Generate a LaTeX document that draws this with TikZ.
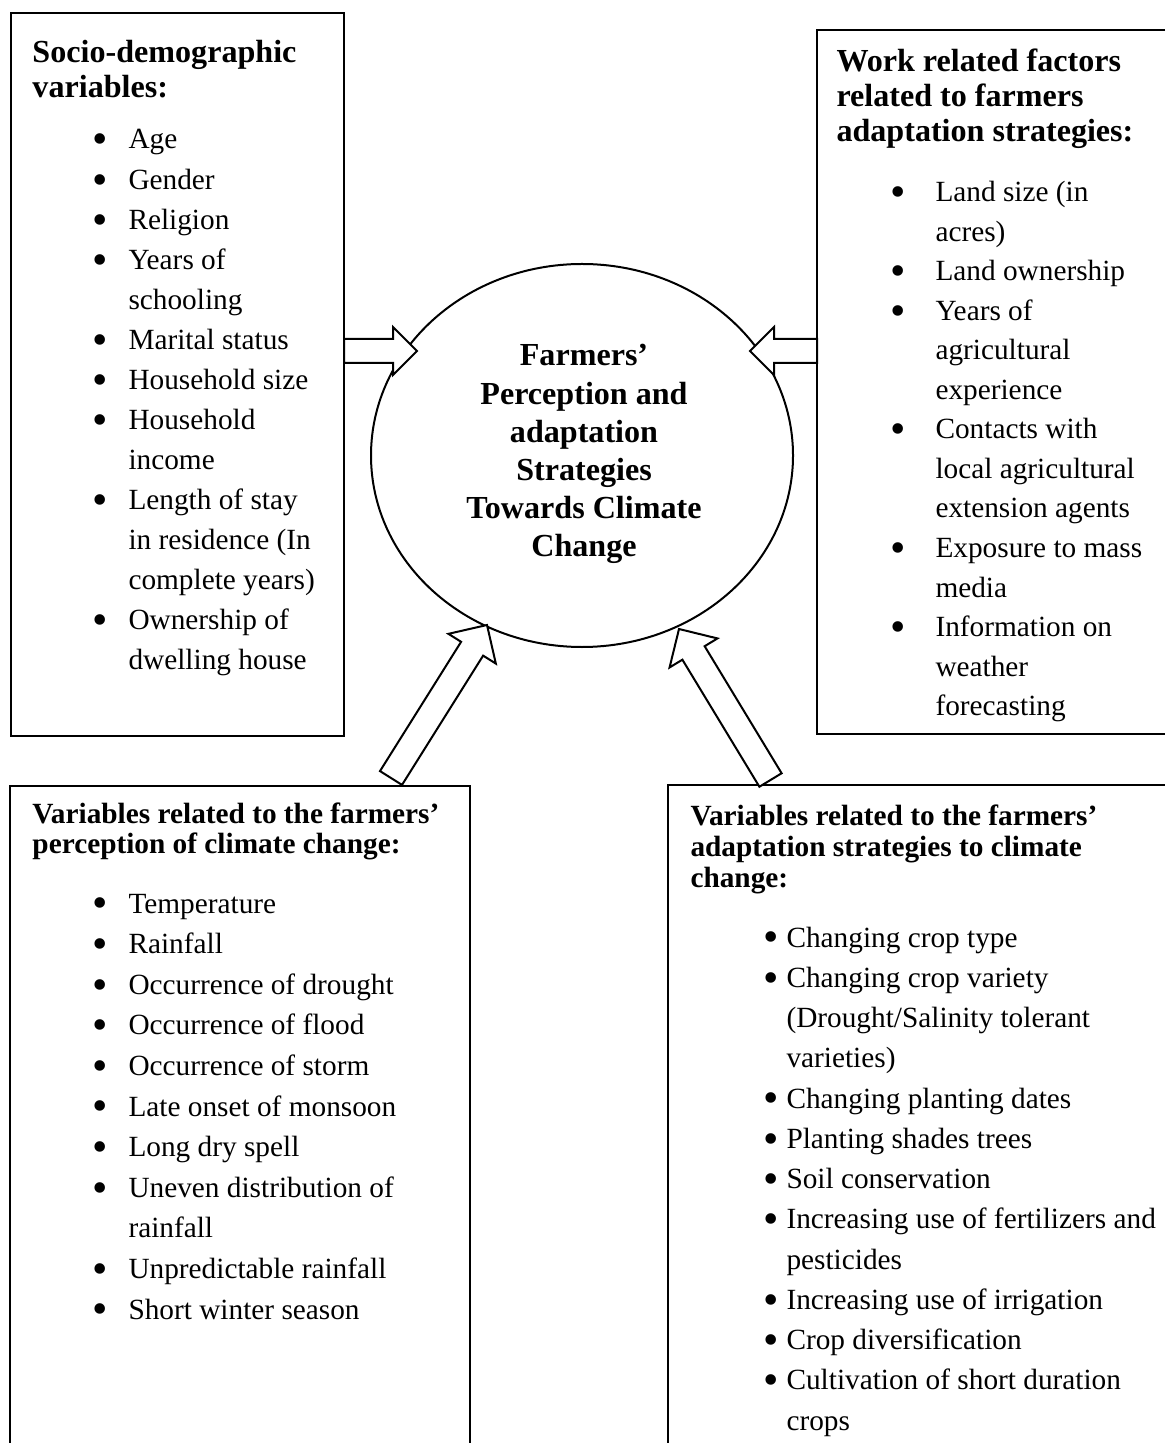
\documentclass[tikz,border=0pt]{standalone}
\usepackage{fontspec}
\setmainfont{Liberation Serif}
\usepackage{array}
\usetikzlibrary{calc,shapes.geometric}
\tikzset{
  boxline/.style={line width=0.8pt},
  blockarrow/.style={line width=0.8pt, fill=white, line join=miter},
  ttl/.style={anchor=base west, inner sep=0pt, font={\fontsize{12.84}{14}\selectfont\bfseries}},
  ttlsmall/.style={anchor=base west, inner sep=0pt, font={\fontsize{11.72}{12.2}\selectfont\bfseries}},
  lst/.style={anchor=base west, inner sep=0pt},
  centertext/.style={anchor=base, inner sep=0pt, font={\fontsize{12.84}{15.28}\selectfont\bfseries}},
}
\newcommand\bul{\raisebox{-0.17em}{\scalebox{1.5}{\textbullet}}}
% tail, tip, half shaft width, half head width, head length
\newcommand\blockarrow[5]{%
  \coordinate (bah) at ($(#2)!#5!(#1)$);
  \draw[blockarrow] ($(#1)!#3!90:(#2)$) -- ($(bah)!#3!90:(#2)$) -- ($(bah)!#4!90:(#2)$) -- (#2)
    -- ($(bah)!#4!-90:(#2)$) -- ($(bah)!#3!-90:(#2)$) -- ($(#1)!#3!-90:(#2)$) -- cycle;}
\begin{document}
\begin{tikzpicture}[x=0.4pt, y=-0.4pt]
\useasboundingbox (0,0) rectangle (1165,1443);

% boxes
\draw[boxline] (11,13) rectangle (344,736);
\draw[boxline] (1165,30) -- (817,30) -- (817,734) -- (1165,734);
\draw[boxline] (10,1443) -- (10,786) -- (470,786) -- (470,1443);
\draw[boxline] (668,1443) -- (668,785) -- (1165,785);

% central ellipse
\node[ellipse, draw, line width=0.8pt, minimum width=168.8pt, minimum height=153.2pt, inner sep=0pt] (centre) at (582,455.5) {};
\node[centertext] (centretext) at (584,366) {\begin{tabular}[t]{@{}c@{}}Farmers’\\Perception and\\adaptation\\Strategies\\Towards Climate\\Change\end{tabular}};

% top-left box
\node[ttl] (tltitle) at (32,63) {\begin{tabular}[t]{@{}l@{}}Socio-demographic\\variables:\end{tabular}};
\node[lst, font={\fontsize{11.72}{16.03}\selectfont}] (tllist) at (72,149) {\begin{tabular}[t]{@{}wc{22.4pt}@{}l@{}}
\bul & Age\\
\bul & Gender\\
\bul & Religion\\
\bul & Years of\\
 & schooling\\
\bul & Marital status\\
\bul & Household size\\
\bul & Household\\
 & income\\
\bul & Length of stay\\
 & in residence (In\\
 & complete years)\\
\bul & Ownership of\\
 & dwelling house
\end{tabular}};

% top-right box
\node[ttl] (trtitle) at (836,72) {\begin{tabular}[t]{@{}l@{}}Work related factors\\related to farmers\\adaptation strategies:\end{tabular}};
\node[lst, font={\fontsize{11.72}{15.8}\selectfont}] (trlist) at (861,202) {\begin{tabular}[t]{@{}wc{29.6pt}@{}l@{}}
\bul & Land size (in\\
 & acres)\\
\bul & Land ownership\\
\bul & Years of\\
 & agricultural\\
 & experience\\
\bul & Contacts with\\
 & local agricultural\\
 & extension agents\\
\bul & Exposure to mass\\
 & media\\
\bul & Information on\\
 & weather\\
 & forecasting
\end{tabular}};

% bottom-left box
\node[ttlsmall] (bltitle) at (32,823) {\begin{tabular}[t]{@{}l@{}}Variables related to the farmers’\\perception of climate change:\end{tabular}};
\node[lst, font={\fontsize{11.72}{16.24}\selectfont}] (bllist) at (72,913) {\begin{tabular}[t]{@{}wc{22.4pt}@{}l@{}}
\bul & Temperature\\
\bul & Rainfall\\
\bul & Occurrence of drought\\
\bul & Occurrence of flood\\
\bul & Occurrence of storm\\
\bul & Late onset of monsoon\\
\bul & Long dry spell\\
\bul & Uneven distribution of\\
 & rainfall\\
\bul & Unpredictable rainfall\\
\bul & Short winter season
\end{tabular}};

% bottom-right box
\node[ttlsmall, font={\fontsize{11.72}{12.4}\selectfont\bfseries}] (brtitle) at (690,825) {\begin{tabular}[t]{@{}l@{}}Variables related to the farmers’\\adaptation strategies to climate\\change:\end{tabular}};
\node[lst, font={\fontsize{11.72}{16.1}\selectfont}] (brlist) at (756,947) {\begin{tabular}[t]{@{}wc{12pt}@{}l@{}}
\bul & Changing crop type\\
\bul & Changing crop variety\\
 & (Drought/Salinity tolerant\\
 & varieties)\\
\bul & Changing planting dates\\
\bul & Planting shades trees\\
\bul & Soil conservation\\
\bul & Increasing use of fertilizers and\\
 & pesticides\\
\bul & Increasing use of irrigation\\
\bul & Crop diversification\\
\bul & Cultivation of short duration\\
 & crops
\end{tabular}};

% arrow end points
\coordinate (tlA) at (344,351);
\coordinate (tlB) at (417,351);
\coordinate (trA) at (817,351);
\coordinate (trB) at (750,351);
\coordinate (blA) at (391,778);
\coordinate (blB) at (487,625);
\coordinate (brA) at (770.5,780);
\coordinate (brB) at (679,629);

\blockarrow{tlA}{tlB}{4.8pt}{9.6pt}{9.6pt}
\blockarrow{trA}{trB}{4.8pt}{9.6pt}{9.6pt}
\blockarrow{blA}{blB}{5.2pt}{11.2pt}{11.2pt}
\blockarrow{brA}{brB}{5.2pt}{11.2pt}{11.2pt}
\end{tikzpicture}
\end{document}
